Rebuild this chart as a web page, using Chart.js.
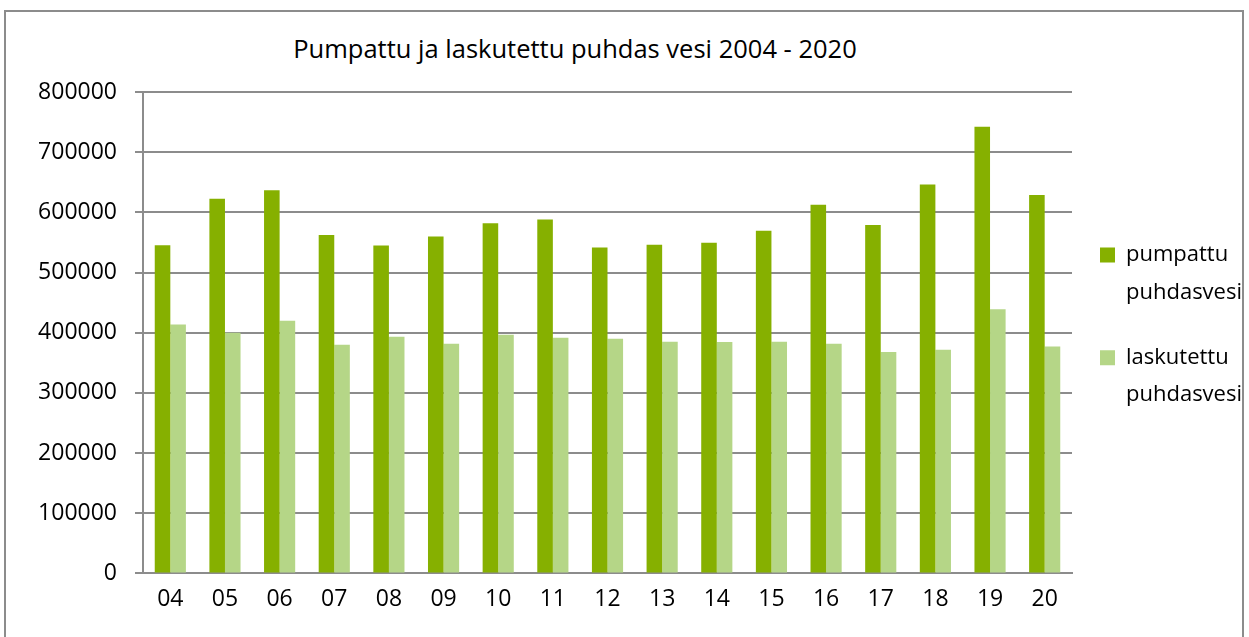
<!DOCTYPE html>
<html>
<head>
<meta charset="utf-8">
<script src="https://cdn.jsdelivr.net/npm/chart.js@4.4.0/dist/chart.umd.min.js"></script>
<style>
  html, body { margin: 0; padding: 0; background: #fff; overflow: hidden; }
  #frame { position: absolute; left: 4px; top: 10px; width: 1240px; height: 680px;
           border: 2px solid #8c8c8c; box-sizing: border-box; }
  #wrap { position: absolute; left: 0; top: 0; width: 1249px; height: 637px; }
  #title { position: absolute; left: 0; width: 1150px; top: 31px; text-align: center;
           font: 25.5px "Open Sans", sans-serif; color: #000; }
</style>
</head>
<body>
<div id="frame"></div>
<div id="title">Pumpattu ja laskutettu puhdas vesi 2004 - 2020</div>
<div id="wrap"><canvas id="chart"></canvas></div>
<script>
// years 2004 - 2020, shown as two digits
const YEARS = ['04', '05', '06', '07', '08', '09', '10', '11', '12', '13', '14', '15', '16', '17', '18', '19', '20'];
const PUMPATTU = [545500, 622800, 636700, 562200, 545000, 560000, 581700, 588300, 541700,
                  546100, 549500, 569500, 612800, 578900, 646100, 742200, 628900];
const LASKUTETTU = [413800, 400000, 420000, 380000, 393300, 381700, 396700, 391700, 390000,
                    385000, 384500, 385000, 381700, 367800, 371700, 438900, 377200];

const GRID = '#8c8c8c';
const FONT = '"Open Sans", sans-serif';

new Chart(document.getElementById('chart').getContext('2d'), {
  type: 'bar',
  data: {
    labels: YEARS,
    datasets: [
      { label: 'pumpattu puhdasvesi', data: PUMPATTU, backgroundColor: '#86b000' },
      { label: 'laskutettu puhdasvesi', data: LASKUTETTU, backgroundColor: '#b5d687' },
    ],
  },
  options: {
    responsive: true,
    maintainAspectRatio: false,
    animation: false,
    categoryPercentage: 0.57,
    barPercentage: 1,
    layout: { padding: { top: 92, bottom: 12, left: 0, right: -3 } },
    plugins: {
      title: { display: false },
      tooltip: { enabled: false },
      legend: {
        position: 'right',
        fullSize: false,
        labels: {
          boxWidth: 15,
          boxHeight: 15,
          padding: 28,
          color: '#000',
          font: { family: FONT, size: 22, lineHeight: 1.7 },
          // two-line legend entries, split at the space
          generateLabels(chart) {
            const items = Chart.defaults.plugins.legend.labels.generateLabels(chart);
            items.forEach(it => { it.text = it.text.split(' '); });
            return items;
          },
        },
      },
    },
    scales: {
      x: {
        grid: { display: false, drawTicks: false },
        border: { color: GRID, width: 2 },
        ticks: { color: '#000', padding: 12, font: { family: FONT, size: 23 } },
      },
      y: {
        min: 0,
        max: 800000,
        afterFit(scale) { scale.width = 143; },
        grid: { color: GRID, lineWidth: 2, tickLength: 8 },
        border: { color: GRID, width: 2 },
        ticks: {
          stepSize: 100000,
          color: '#000',
          padding: 18,
          font: { family: FONT, size: 23 },
          callback: v => String(v),
        },
      },
    },
  },
});
</script>
</body>
</html>
